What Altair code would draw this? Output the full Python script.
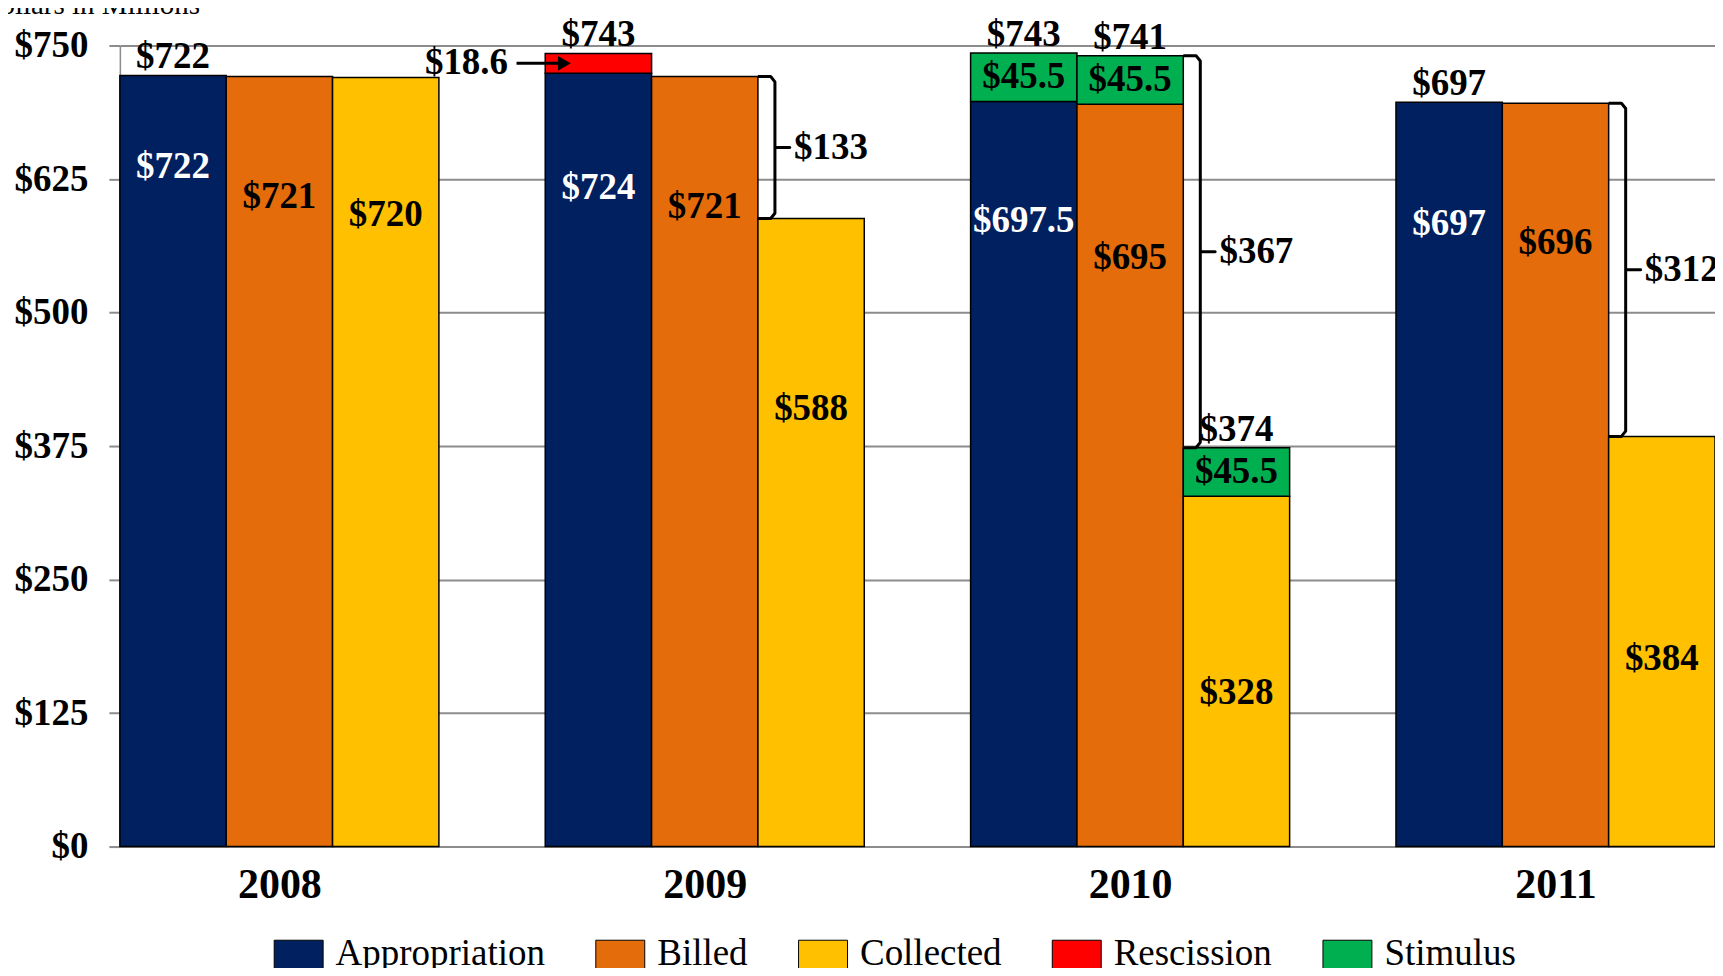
import math
import json
import altair as alt
import pandas as pd

# ---------------- data ($ millions) ----------------
years = ["2008", "2009", "2010", "2011"]
series = ["Appropriation", "Billed", "Collected"]
appropriation = [722, 724, 697.5, 697]
billed = [721, 721, 695, 696]
collected = [720, 588, 328, 384]
rescission_on_appropriation = [0, 18.6, 0, 0]
stimulus_on_appropriation = [0, 0, 45.5, 0]
stimulus_on_billed = [0, 0, 45.5, 0]
stimulus_on_collected = [0, 0, 45.5, 0]
# where the in-bar value labels sit, in $ millions
appropriation_label_at = [636, 617, 586, 583]
billed_label_at = [608, 599, 551, 565]
collected_label_at = [591, 410, 144, 176]
# which bars carry a total label on top
total_label_appropriation = [True, True, True, True]
total_label_billed = [False, False, True, False]
total_label_collected = [False, False, True, False]
# years with a "billed minus collected" bracket
bracket_years = ["2009", "2010", "2011"]
y_ticks = [0, 125, 250, 375, 500, 625, 750]
components = ["Appropriation", "Billed", "Collected", "Rescission", "Stimulus"]
component_colors = ["#002060", "#E46C0A", "#FFC000", "#FF0000", "#00B050"]

FONT = "Liberation Serif"
GRAY = "#8c8c8c"


def money(v):
    r = round(v, 1)
    if abs(r - round(r)) < 1e-9:
        return "$%d" % int(round(r))
    return "$%.1f" % r


def money_whole(v):
    return "$%d" % int(math.floor(v + 0.5))


base_values = {"Appropriation": appropriation, "Billed": billed, "Collected": collected}
extras = {
    "Appropriation": [("Rescission", rescission_on_appropriation), ("Stimulus", stimulus_on_appropriation)],
    "Billed": [("Stimulus", stimulus_on_billed)],
    "Collected": [("Stimulus", stimulus_on_collected)],
}
label_at = {"Appropriation": appropriation_label_at, "Billed": billed_label_at, "Collected": collected_label_at}
total_flag = {"Appropriation": total_label_appropriation, "Billed": total_label_billed, "Collected": total_label_collected}

seg_rows, inner_rows, total_rows, extra_label_rows = [], [], [], []
for i, yr in enumerate(years):
    for j, s in enumerate(series):
        slot = 4 * i + j
        base = base_values[s][i]
        seg_rows.append(dict(year=yr, component=s, x=slot, x2=slot + 1, y=0, y2=base))
        inner_rows.append(dict(x=slot + 0.5, y=label_at[s][i], text=money(base), white=(s == "Appropriation")))
        top = base
        for comp, arr in extras[s]:
            v = arr[i]
            if v > 0:
                seg_rows.append(dict(year=yr, component=comp, x=slot, x2=slot + 1, y=top, y2=top + v))
                if comp == "Stimulus":
                    extra_label_rows.append(dict(x=slot + 0.5, y=top + v / 2, text=money(v)))
                top += v
        if total_flag[s][i]:
            total_rows.append(dict(x=slot + 0.5, y=top, text=money_whole(top)))

seg_df = pd.DataFrame(seg_rows)
inner_df = pd.DataFrame(inner_rows)
total_df = pd.DataFrame(total_rows)
extra_df = pd.DataFrame(extra_label_rows)

# rescission arrow
arrow_rows, arrow_head_rows, arrow_label_rows = [], [], []
for i, v in enumerate(rescission_on_appropriation):
    if v > 0:
        slot = 4 * i
        ymid = appropriation[i] + v / 2
        arrow_rows.append(dict(x=slot - 0.27, x2=slot + 0.17, y=ymid))
        arrow_head_rows.append(dict(x=slot + 0.18, y=ymid))
        arrow_label_rows.append(dict(x=slot - 0.35, y=ymid, text=money(v)))
arrow_df = pd.DataFrame(arrow_rows)
head_df = pd.DataFrame(arrow_head_rows)
arrow_lbl_df = pd.DataFrame(arrow_label_rows)

# brackets
br_rows, br_lbl_rows = [], []
for yr in bracket_years:
    i = years.index(yr)
    top = billed[i] + stimulus_on_billed[i]
    bot = collected[i] + stimulus_on_collected[i]
    mid = (top + bot) / 2
    p = 4 * i + 2
    pts = [(p, top), (p + 0.12, top), (p + 0.16, top - 5), (p + 0.16, mid),
           (p + 0.30, mid), (p + 0.16, mid), (p + 0.16, bot + 5), (p + 0.12, bot), (p, bot)]
    for k, (px, py) in enumerate(pts):
        br_rows.append(dict(year=yr, order=k, x=px, y=py))
    br_lbl_rows.append(dict(x=p + 0.34, y=mid, text=money_whole(top - bot)))
br_df = pd.DataFrame(br_rows)
br_lbl_df = pd.DataFrame(br_lbl_rows)

# ---------------- chart ----------------
xscale = alt.Scale(domain=[0, 15], nice=False, zero=False)
yscale = alt.Scale(domain=[0, 750], nice=False, zero=True)

year_expr = json.dumps(years) + "[floor(datum.value / 4)]"

x_axis = alt.Axis(
    values=[1.5, 5.5, 9.5, 13.5], labelExpr=year_expr, ticks=False, grid=False,
    domain=True, domainColor=GRAY, domainWidth=2, title=None,
    labelFont=FONT, labelFontSize=42, labelFontWeight="bold", labelColor="black",
    labelPadding=51, labelBaseline="alphabetic", labelAngle=0,
)
y_axis = alt.Axis(
    values=y_ticks, labelExpr="'$' + datum.value",
    labelFont=FONT, labelFontSize=37, labelFontWeight="bold", labelColor="black",
    labelPadding=21, tickSize=11, tickColor=GRAY, tickWidth=2,
    domain=True, domainColor=GRAY, domainWidth=1.5,
    grid=True, gridColor=GRAY, gridWidth=2,
    title="Dollars in Millions", titleAngle=0, titleX=-141, titleY=-32,
    titleAlign="left", titleBaseline="alphabetic", titleFont=FONT,
    titleFontSize=29, titleFontWeight="normal", titleColor="black",
)


def xy():
    return dict(
        x=alt.X("x:Q", scale=xscale, axis=x_axis),
        y=alt.Y("y:Q", scale=yscale, axis=y_axis),
    )


bars = alt.Chart(seg_df).mark_bar(stroke="black", strokeWidth=1.5).encode(
    x2="x2:Q",
    y2="y2:Q",
    color=alt.Color(
        "component:N",
        scale=alt.Scale(domain=components, range=component_colors),
        legend=alt.Legend(
            orient="none", legendX=154, legendY=895, direction="horizontal", columns=5,
            title=None, symbolType="square", symbolSize=2401, symbolStrokeColor="black",
            symbolStrokeWidth=1, symbolOpacity=1, labelFont=FONT, labelFontSize=37,
            labelColor="black", labelOffset=12, columnPadding=48, labelLimit=400, padding=0,
            labelBaseline="alphabetic",
        ),
    ),
    **xy(),
)

txt = dict(font=FONT, fontSize=37, fontWeight="bold")

inner_white = alt.Chart(inner_df[inner_df["white"]]).mark_text(color="white", baseline="middle", **txt).encode(
    text="text:N", **xy())
inner_black = alt.Chart(inner_df[~inner_df["white"]]).mark_text(color="black", baseline="middle", **txt).encode(
    text="text:N", **xy())
totals = alt.Chart(total_df).mark_text(color="black", baseline="alphabetic", dy=-7, **txt).encode(
    text="text:N", **xy())
stim_labels = alt.Chart(extra_df).mark_text(color="black", baseline="middle", **txt).encode(
    text="text:N", **xy())

brackets = alt.Chart(br_df).mark_line(color="black", strokeWidth=3, strokeJoin="round").encode(
    detail="year:N", order="order:Q", **xy())
bracket_labels = alt.Chart(br_lbl_df).mark_text(color="black", align="left", baseline="middle", **txt).encode(
    text="text:N", **xy())

arrow = alt.Chart(arrow_df).mark_rule(color="black", strokeWidth=3).encode(
    x2="x2:Q", **xy())
arrow_head = alt.Chart(head_df).mark_point(shape="triangle-right", filled=True, color="black", size=220, opacity=1).encode(
    **xy())
arrow_label = alt.Chart(arrow_lbl_df).mark_text(color="black", align="right", baseline="middle", **txt).encode(
    text="text:N", **xy())

chart = alt.layer(
    bars, inner_white, inner_black, totals, stim_labels,
    brackets, bracket_labels, arrow, arrow_head, arrow_label,
).properties(
    width=1597, height=802,
    autosize=alt.AutoSizeParams(type="none"),
    padding={"left": 112, "top": 37, "right": 0, "bottom": 121},
).configure_view(stroke=None).configure(background="white")

chart.save("out.html", embed_options={"renderer": "svg", "actions": False})
